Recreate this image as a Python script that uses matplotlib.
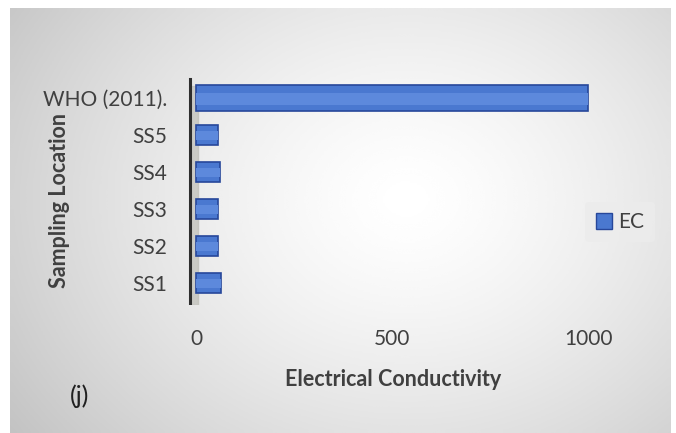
import numpy as np
import matplotlib.pyplot as plt
import matplotlib.patches as mpatches

# Chart data
locations = ['SS1', 'SS2', 'SS3', 'SS4', 'SS5', 'WHO (2011).']
ec_values = [65, 57, 56, 62, 56, 1000]
x_ticks = [0, 500, 1000]

plt.rcParams['font.family'] = ['Lato', 'DejaVu Sans']

W, H = 676, 433
fig = plt.figure(figsize=(W / 100, H / 100), dpi=100, facecolor='white')

# gray radial-gradient panel behind the chart
bg = fig.add_axes([10 / W, 0, 661 / W, 425 / H], zorder=-2)
gx, gy = np.meshgrid(np.linspace(0, 1, 300), np.linspace(0, 1, 200))
dist = np.sqrt(((gx - 0.6) / 0.75) ** 2 + ((gy - 0.45) / 0.95) ** 2)
shade = 1.0 - 0.24 * np.clip(dist, 0, 1) ** 1.4
bg.imshow(shade, cmap='gray', vmin=0, vmax=1, aspect='auto',
          extent=[0, 1, 0, 1], origin='upper', interpolation='bicubic')
bg.axis('off')

# plot area
ax = fig.add_axes([185 / W, (H - 305) / H, 415 / W, 235 / H])
ax.patch.set_alpha(0)
ypos = np.arange(len(locations))
ax.set_xlim(-28, 1030)
ax.set_ylim(-0.6, 5.75)

# 3D-ish back wall
ax.axvspan(-16, 6, ymin=0.0, ymax=0.93, color='#bdbdb6', alpha=0.7, zorder=1)
ax.axvline(-16, ymin=0.0, ymax=0.96, color='#2e2e2e', lw=2.2, zorder=2)

heights = [0.55] * 5 + [0.7]
bars = ax.barh(ypos, ec_values, height=heights, color='#4a78d0',
               edgecolor='#27479a', linewidth=1.2, zorder=3)
# slightly lighter band for the glossy look
ax.barh(ypos - np.array(heights) * 0.05, ec_values, height=np.array(heights) * 0.45,
        color='#5d89dc', linewidth=0, zorder=4)

ax.set_yticks(ypos)
ax.set_yticklabels(locations, fontsize=15, color='#404040')
ax.set_xticks(x_ticks)
ax.set_xticklabels([str(t) for t in x_ticks], fontsize=15, color='#404040')
ax.tick_params(axis='y', length=0, pad=13)
ax.tick_params(axis='x', length=0, pad=17)
for s in ax.spines.values():
    s.set_visible(False)

fig.text(60 / W, 1 - 200 / H, 'Sampling Location', rotation=90, fontsize=15.5,
         fontweight='bold', color='#404040', ha='center', va='center')
fig.text(393 / W, 1 - 379 / H, 'Electrical Conductivity', fontsize=15.5,
         fontweight='bold', color='#404040', ha='center', va='center')
fig.text(80 / W, 1 - 396 / H, '(j)', fontsize=18, color='#202020',
         ha='center', va='center')

handle = mpatches.Patch(facecolor='#4a78d0', edgecolor='#27479a', label='EC')
fig.legend(handles=[handle], loc='center', bbox_to_anchor=(620 / W, 1 - 222 / H),
           fontsize=15, frameon=True, facecolor='#ececec', edgecolor='none',
           framealpha=0.8, handlelength=0.8, handleheight=0.8, handletextpad=0.3,
           borderpad=0.5, labelcolor='#404040')

plt.savefig('out.png', dpi=100, facecolor='white')
